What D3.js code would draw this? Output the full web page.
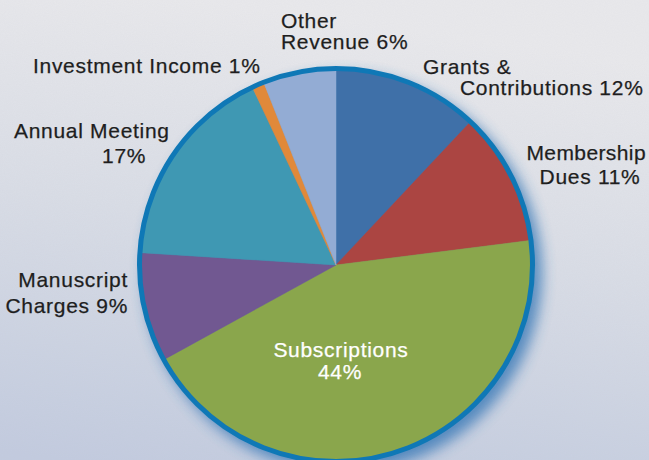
<!DOCTYPE html>
<html>
<head>
<meta charset="utf-8">
<script src="https://cdn.jsdelivr.net/npm/d3@7"></script>
<style>
html,body{margin:0;padding:0;overflow:hidden;}
svg{display:block;}
text{font-family:"Liberation Sans",Arial,Helvetica,sans-serif;}
</style>
</head>
<body>
<svg id="chart" width="649" height="460"></svg>
<script>
// Data
const categories = ["Grants & Contributions","Membership Dues","Subscriptions","Manuscript Charges","Annual Meeting","Investment Income","Other Revenue"];
const values = [12, 11, 44, 9, 17, 1, 6];
const labelLines = [
  ["Grants &", "Contributions 12%"],
  ["Membership", "Dues 11%"],
  ["Subscriptions", "44%"],
  ["Manuscript", "Charges 9%"],
  ["Annual Meeting", "17%"],
  ["Investment Income 1%"],
  ["Other", "Revenue 6%"]
];

// Styling / layout (kept separate from data)
const colors = ["#3f70a8","#ab4542","#8aa64c","#715891","#3f98b3","#e0893a","#93acd4"];
const labelLayout = [
  {lines:[{x:423,y:74,a:"start"},{x:460,y:95,a:"start"}], fill:"#1e1e1e"},
  {lines:[{x:646,y:160,a:"end",ls:0.4},{x:590,y:184,a:"middle"}], fill:"#1e1e1e"},
  {lines:[{x:341,y:357,a:"middle"},{x:340,y:379,a:"middle"}], fill:"#ffffff"},
  {lines:[{x:128,y:287,a:"end"},{x:128,y:313,a:"end"}], fill:"#1e1e1e"},
  {lines:[{x:14,y:138,a:"start"},{x:102,y:163,a:"start"}], fill:"#1e1e1e"},
  {lines:[{x:33,y:73,a:"start"}], fill:"#1e1e1e"},
  {lines:[{x:281,y:28,a:"start"},{x:281,y:49,a:"start"}], fill:"#1e1e1e"}
];

const W = 649, H = 460;
const cx = 336, cy = 265, R = 195;

const svg = d3.select("#chart");
const defs = svg.append("defs");

const bg = defs.append("linearGradient").attr("id","bg")
  .attr("x1","0.3").attr("y1","0").attr("x2","0.1").attr("y2","1");
bg.append("stop").attr("offset","0").attr("stop-color","#e9e9ec");
bg.append("stop").attr("offset","0.45").attr("stop-color","#d9dde6");
bg.append("stop").attr("offset","1").attr("stop-color","#c2cbdf");

const noise = defs.append("filter").attr("id","noise").attr("x","0").attr("y","0").attr("width","1").attr("height","1");
noise.append("feTurbulence").attr("type","fractalNoise").attr("baseFrequency","0.9").attr("numOctaves","2").attr("seed","3").attr("result","t");
noise.append("feColorMatrix").attr("in","t").attr("type","matrix")
  .attr("values","0 0 0 0 0.5  0 0 0 0 0.5  0 0 0 0 0.55  0 0 0 0.10 0");

const glow = defs.append("filter").attr("id","glow").attr("x","-30%").attr("y","-30%").attr("width","160%").attr("height","160%");
glow.append("feGaussianBlur").attr("stdDeviation","7");

svg.append("rect").attr("width",W).attr("height",H).attr("fill","url(#bg)");
svg.append("rect").attr("width",W).attr("height",H).attr("fill","#fff").attr("filter","url(#noise)");

const g = svg.append("g").attr("transform",`translate(${cx},${cy})`);

// shadow glow
g.append("circle").attr("cx",7).attr("cy",8).attr("r",R+4)
  .attr("fill","#2f72b4").attr("opacity",0.75).attr("filter","url(#glow)");

const pie = d3.pie().sort(null).value(d => d)(values);
const arc = d3.arc().innerRadius(0).outerRadius(R);

g.selectAll("path.slice").data(pie).join("path")
  .attr("class","slice")
  .attr("d",arc)
  .attr("fill",(d,i)=>colors[i])
  .attr("stroke",(d,i)=>colors[i])
  .attr("stroke-width",0.5);

g.append("circle").attr("r",R+1.5).attr("fill","none")
  .attr("stroke","#0f78b6").attr("stroke-width",5);

// labels
const lg = svg.append("g");
labelLines.forEach((lines,i)=>{
  lines.forEach((t,j)=>{
    const p = labelLayout[i].lines[j];
    lg.append("text").attr("x",p.x).attr("y",p.y)
      .attr("text-anchor",p.a)
      .attr("font-size",21)
      .attr("letter-spacing",p.ls != null ? p.ls : 0.7)
      .attr("fill",labelLayout[i].fill)
      .attr("stroke",labelLayout[i].fill)
      .attr("stroke-width",0.25)
      .text(t);
  });
});
</script>
</body>
</html>
